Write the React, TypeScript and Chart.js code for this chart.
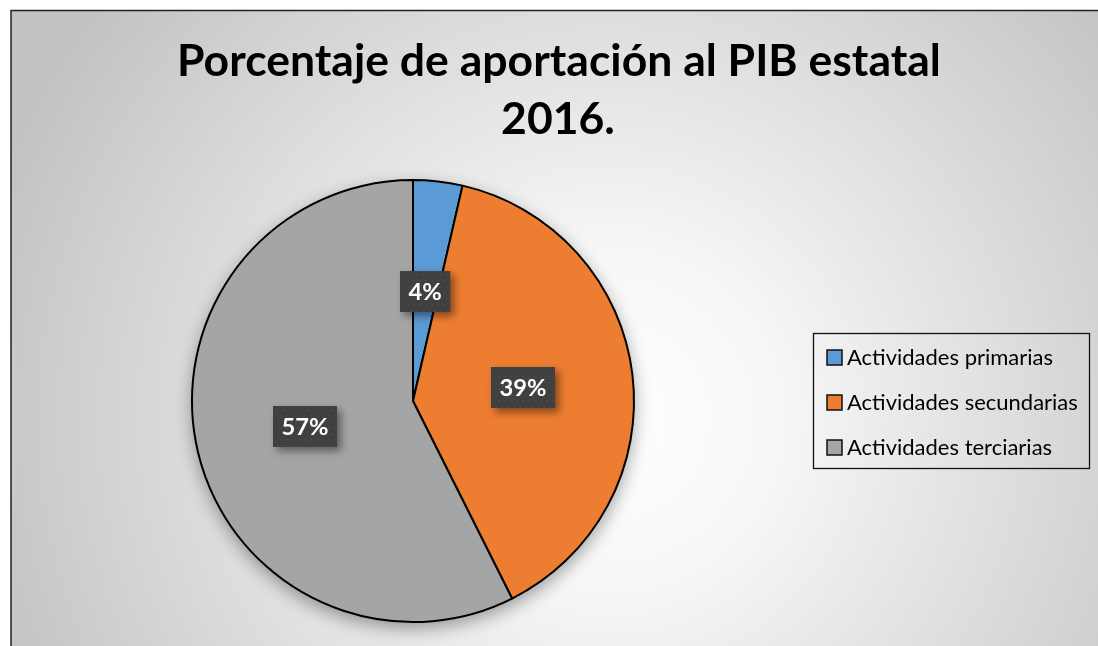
import React, { useEffect, useRef } from "react";
import { Chart, registerables } from "chart.js";

Chart.register(...registerables);

const titleLines = ["Porcentaje de aportación al PIB estatal", "2016."];
const categories = ["Actividades primarias", "Actividades secundarias", "Actividades terciarias"];
const values = [3.6, 39.0, 57.4];
const colors = ["#5B9BD5", "#ED7D31", "#A5A5A5"];

const FONT = "Lato, 'Open Sans', sans-serif";

function fitSize(ctx: CanvasRenderingContext2D, text: string, weight: string, target: number) {
  ctx.font = `${weight} 100px ${FONT}`;
  const w = ctx.measureText(text).width;
  return (100 * target) / w;
}

const backgroundPlugin = {
  id: "bgPlugin",
  beforeDraw(chart: any) {
    const ctx: CanvasRenderingContext2D = chart.ctx;
    const W = chart.width;
    const H = chart.height;
    ctx.save();
    ctx.fillStyle = "#ffffff";
    ctx.fillRect(0, 0, W, H);
    const cx = 610, cy = 420;
    const g = ctx.createRadialGradient(cx, cy, 0, cx, cy, 660);
    g.addColorStop(0, "#ffffff");
    g.addColorStop(0.25, "#f7f7f7");
    g.addColorStop(1, "#c2c2c2");
    ctx.fillStyle = g;
    ctx.fillRect(11, 10, W - 11, H - 10);
    ctx.strokeStyle = "#222";
    ctx.lineWidth = 1.5;
    ctx.beginPath();
    ctx.moveTo(11, H + 5);
    ctx.lineTo(11, 10.5);
    ctx.lineTo(W + 5, 10.5);
    ctx.stroke();

    // title
    ctx.fillStyle = "#000";
    ctx.textAlign = "center";
    ctx.textBaseline = "alphabetic";
    const size = fitSize(ctx, titleLines[0], "bold", 764);
    ctx.font = `bold ${size}px ${FONT}`;
    ctx.fillText(titleLines[0], 559, 76);
    ctx.fillText(titleLines[1], 558, 134);
    ctx.restore();
  },
  beforeDatasetsDraw(chart: any) {
    const ctx: CanvasRenderingContext2D = chart.ctx;
    const meta = chart.getDatasetMeta(0);
    const arc = meta.data[0];
    if (!arc) return;
    const { x, y, outerRadius } = arc.getProps(["x", "y", "outerRadius"], true);
    ctx.save();
    ctx.shadowColor = "rgba(0,0,0,0.38)";
    ctx.shadowBlur = 18;
    ctx.shadowOffsetY = 6;
    ctx.fillStyle = "#a5a5a5";
    ctx.beginPath();
    ctx.arc(x, y, outerRadius, 0, Math.PI * 2);
    ctx.fill();
    ctx.restore();
  },
  afterDatasetsDraw(chart: any) {
    const ctx: CanvasRenderingContext2D = chart.ctx;
    const meta = chart.getDatasetMeta(0);
    const data = chart.data.datasets[0].data as number[];
    const size = fitSize(ctx, "39%", "bold", 47);
    meta.data.forEach((el: any, i: number) => {
      const p = el.tooltipPosition();
      const text = Math.round(data[i]) + "%";
      ctx.save();
      ctx.font = `bold ${size}px ${FONT}`;
      const tw = ctx.measureText(text).width;
      const bw = tw + 17;
      const bh = 41;
      const bx = Math.round(p.x - bw / 2);
      const by = Math.round(p.y - bh / 2);
      ctx.shadowColor = "rgba(0,0,0,0.45)";
      ctx.shadowBlur = 8;
      ctx.shadowOffsetX = 4;
      ctx.shadowOffsetY = 4;
      ctx.fillStyle = "#404040";
      ctx.fillRect(bx, by, bw, bh);
      ctx.shadowColor = "transparent";
      ctx.shadowBlur = 0;
      ctx.shadowOffsetX = 0;
      ctx.shadowOffsetY = 0;
      ctx.fillStyle = "#4c4c4c";
      for (let yy = by + 3; yy < by + bh - 1; yy += 6) {
        for (let xx = bx + 3 + (((yy - by) / 6) % 2) * 3; xx < bx + bw - 1; xx += 6) {
          ctx.fillRect(xx, yy, 1.5, 1.5);
        }
      }
      ctx.fillStyle = "#ffffff";
      ctx.textAlign = "center";
      ctx.textBaseline = "middle";
      ctx.fillText(text, bx + bw / 2, by + bh / 2 + 1);
      ctx.restore();
    });
  },
  afterDraw(chart: any) {
    const ctx: CanvasRenderingContext2D = chart.ctx;
    const labels = chart.data.labels as string[];
    const bg = chart.data.datasets[0].backgroundColor as string[];
    ctx.save();
    const lx = 813.5, ly = 333.5, lw = 276, lh = 135;
    ctx.strokeStyle = "#111";
    ctx.lineWidth = 1.3;
    ctx.strokeRect(lx, ly, lw, lh);
    const size = fitSize(ctx, labels[1], "normal", 231);
    ctx.font = `normal ${size}px ${FONT}`;
    ctx.textAlign = "left";
    ctx.textBaseline = "middle";
    labels.forEach((lab, i) => {
      const cy = 357 + i * 45;
      ctx.fillStyle = bg[i];
      ctx.fillRect(827, cy - 7, 15, 15);
      ctx.strokeStyle = "#111";
      ctx.lineWidth = 1.5;
      ctx.strokeRect(827, cy - 7, 15, 15);
      ctx.fillStyle = "#000";
      ctx.fillText(lab, 847, cy + 1);
    });
    ctx.restore();
  },
};

export default function App() {
  const ref = useRef<HTMLCanvasElement>(null);
  useEffect(() => {
    document.body.style.margin = "0";
    const chart = new Chart(ref.current!, {
      type: "pie",
      data: {
        labels: categories,
        datasets: [
          {
            data: values,
            backgroundColor: colors,
            borderColor: "#000",
            borderWidth: 2,
          },
        ],
      },
      options: {
        responsive: false,
        animation: false,
        layout: { padding: { left: 191, top: 179, right: 463, bottom: 23 } },
        plugins: {
          legend: { display: false },
          title: { display: false },
          tooltip: { enabled: false },
        },
      },
      plugins: [backgroundPlugin],
    });
    return () => chart.destroy();
  }, []);
  return (
    <div style={{ position: "absolute", left: 0, top: 0, width: 1098, height: 646 }}>
      <canvas ref={ref} width={1098} height={646} style={{ width: 1098, height: 646, display: "block" }} />
    </div>
  );
}
